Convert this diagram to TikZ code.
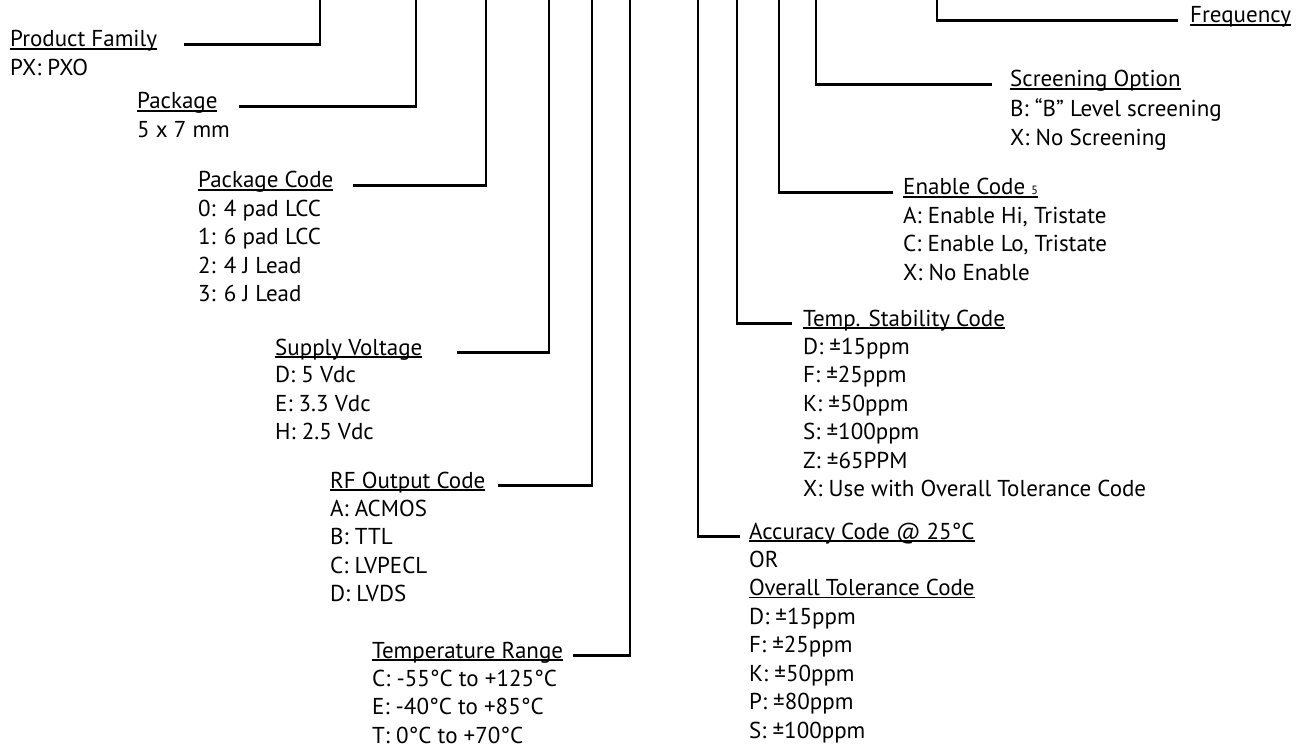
\documentclass[tikz,border=0pt]{standalone}
\usepackage{fontspec}
\setmainfont{PT Sans}
\usetikzlibrary{positioning}

% underline at a fixed depth below the baseline
\newcommand\undr[1]{\setbox0\hbox{#1}\rlap{\rule[-2.6pt]{\wd0}{1.3pt}}\box0}

\tikzset{
  hdr/.style={inner sep=0pt, anchor=base west, font=\fontsize{23}{28.5}\selectfont},
  codes/.style={inner sep=0pt, align=left,
    font=\fontsize{23}{28.5}\selectfont, execute at begin node=\rule{0pt}{17pt}},
  lead/.style={line width=2.4pt},
}

\begin{document}
\begin{tikzpicture}[x=1pt, y=-1pt]
\useasboundingbox (0,0) rectangle (1306,751);

% tops of the leads
\coordinate (fam top) at (320,-4);
\coordinate (pkg top) at (416,-4);
\coordinate (pcode top) at (486,-4);
\coordinate (volt top) at (549,-4);
\coordinate (rf top) at (592,-4);
\coordinate (trange top) at (630,-4);
\coordinate (acc top) at (698,-4);
\coordinate (stab top) at (737,-4);
\coordinate (enab top) at (779,-4);
\coordinate (scr top) at (816,-4);
\coordinate (freq top) at (937,-4);

% left side
\node[hdr] (fam) at (10,47) {\undr{Product Family}};
\node[codes, below right=11.5pt and 0pt of fam.base west] (famc) {PX: PXO};

\node[hdr] (pkg) at (137,109) {\undr{Package}};
\node[codes, below right=11.5pt and 0pt of pkg.base west] (pkgc) {5 x 7 mm};

\node[hdr] (pcode) at (198,188) {\undr{Package Code}};
\node[codes, below right=11.5pt and 0pt of pcode.base west] (pcodec)
  {0: 4 pad LCC\\1: 6 pad LCC\\2: 4 J Lead\\3: 6 J Lead};

\node[hdr] (volt) at (275,355) {\undr{Supply Voltage}};
\node[codes, below right=11.5pt and 0pt of volt.base west] (voltc)
  {D: 5 Vdc\\E: 3.3 Vdc\\H: 2.5 Vdc};

\node[hdr] (rf) at (330,488) {\undr{RF Output Code}};
\node[codes, below right=11.5pt and 0pt of rf.base west] (rfc)
  {A: ACMOS\\B: TTL\\C: LVPECL\\D: LVDS};

\node[hdr] (trange) at (372,658) {\undr{Temperature Range}};
\node[codes, below right=11.5pt and 0pt of trange.base west] (trangec)
  {C: -55°C to +125°C\\E: -40°C to +85°C\\T: 0°C to +70°C};

% right side
\node[hdr] (freq) at (1190,23) {\undr{Frequency}};

\node[hdr] (scr) at (1010,87) {\undr{Screening Option}};
\node[codes, below right=11.5pt and 0pt of scr.base west] (scrc)
  {B: “B” Level screening\\X: No Screening};

\node[hdr] (enab) at (903,195) {\undr{Enable Code {\fontsize{12}{12}\selectfont 5}}};
\node[codes, below right=11.5pt and 0pt of enab.base west] (enabc)
  {A: Enable Hi, Tristate\\C: Enable Lo, Tristate\\X: No Enable};

\node[hdr] (stab) at (803,326) {\undr{Temp. Stability Code}};
\node[codes, below right=11.5pt and 0pt of stab.base west] (stabc)
  {D: ±15ppm\\F: ±25ppm\\K: ±50ppm\\S: ±100ppm\\Z: ±65PPM\\X: Use with Overall Tolerance Code};

\node[hdr] (acc) at (749,539) {\undr{Accuracy Code @ 25°C}};
\node[codes, below right=11.5pt and 0pt of acc.base west] (accc)
  {OR\\\undr{Overall Tolerance Code}\\D: ±15ppm\\F: ±25ppm\\K: ±50ppm\\P: ±80ppm\\S: ±100ppm};

% leads
\draw[lead] (fam.mid east -| 184,0) -| (fam top);
\draw[lead] (pkg.mid east -| 239,0) -| (pkg top);
\draw[lead] (pcode.mid east -| 353,0) -| (pcode top);
\draw[lead] (volt.mid east -| 457,0) -| (volt top);
\draw[lead] (rf.mid east -| 498,0) -| (rf top);
\draw[lead] (trange.mid east -| 573,0) -| (trange top);
\draw[lead] (freq.mid west -| 1178,0) -| (freq top);
\draw[lead] (scr.mid west -| 992,0) -| (scr top);
\draw[lead] (enab.mid west -| 893,0) -| (enab top);
\draw[lead] (stab.mid west -| 792,0) -| (stab top);
\draw[lead] (acc.mid west -| 740,0) -| (acc top);
\end{tikzpicture}
\end{document}
